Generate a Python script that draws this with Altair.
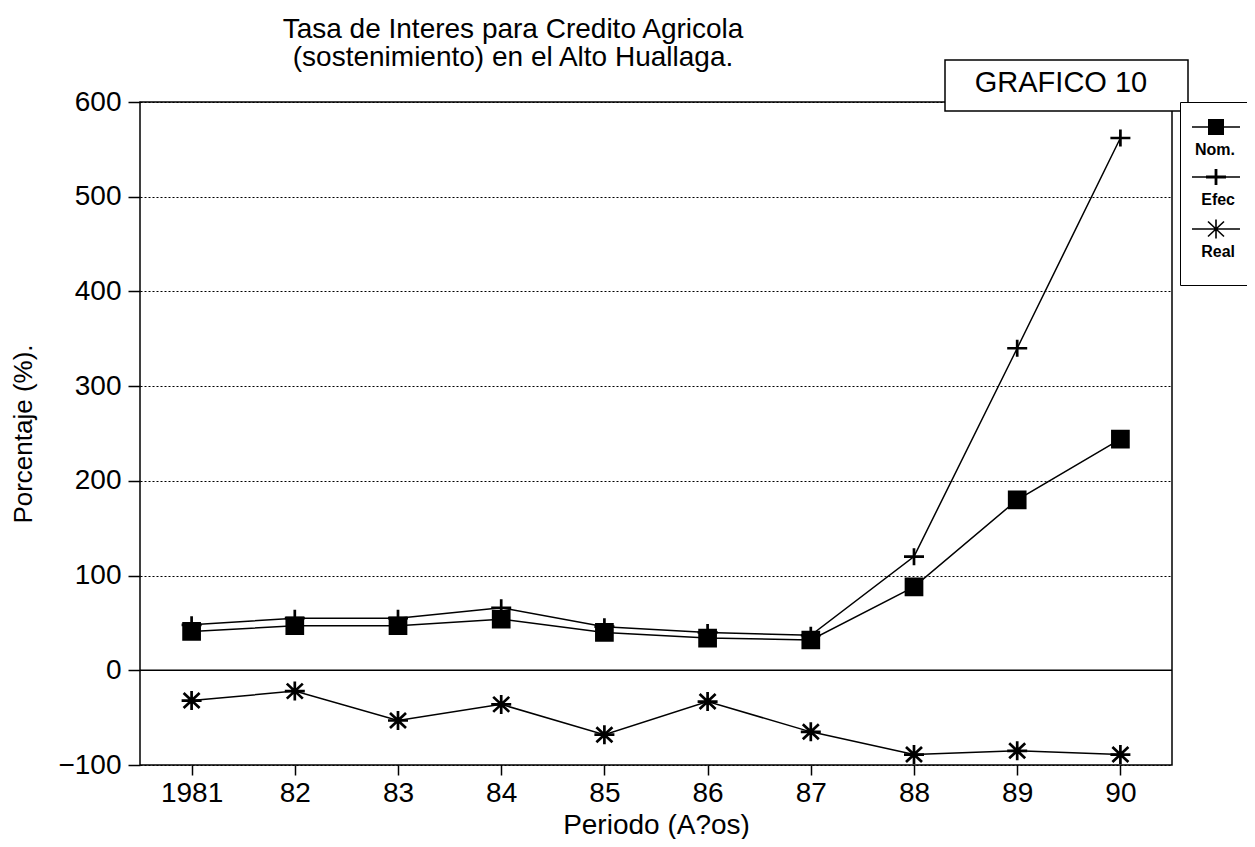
import altair as alt
import pandas as pd

# ---------------- data ----------------
years = ["1981", "82", "83", "84", "85", "86", "87", "88", "89", "90"]
nom = [41, 47, 47, 54, 40, 34, 32, 88, 180, 244]
efec = [48, 55, 55, 66, 46, 40, 37, 120, 340, 562]
real = [-32, -22, -53, -36, -68, -33, -65, -89, -85, -89]
series = ["Nom.", "Efec", "Real"]
y_ticks = [-100, 0, 100, 200, 300, 400, 500, 600]
title_lines = ["Tasa de Interes para Credito Agricola", "(sostenimiento) en el Alto Huallaga."]
badge = ["GRAFICO 10"]
x_title = "Periodo (A?os)"
y_title = "Porcentaje (%)."

rows = []
for name, vals in zip(series, [nom, efec, real]):
    for yr, v in zip(years, vals):
        rows.append({"periodo": yr, "valor": v, "serie": name})
df = pd.DataFrame(rows)

FONT = "Liberation Sans"
W, H = 1032, 663

# marker shapes for the plot (unit paths)
point_paths = [
    "M-0.8,-0.8H0.8V0.8H-0.8Z",
    "M-1,0H1M0,-0.85V0.85",
    "M-1,0H1M0,-0.95V0.95M-0.8,-0.75L0.8,0.75M-0.8,0.75L0.8,-0.75",
]

# legend glyphs built as filled outlines (marker with a line through it)
LEG_SIZE = 900
U = (LEG_SIZE ** 0.5) / 2.0  # pixels per path unit
CX, CY = -4.0, -15.0         # glyph shift inside the legend entry, px


def _f(v):
    return f"{v / U:.3f}"


def rect(x1, y1, x2, y2):
    x1, x2 = x1 + CX, x2 + CX
    y1, y2 = y1 + CY, y2 + CY
    return f"M{_f(x1)},{_f(y1)}H{_f(x2)}V{_f(y2)}H{_f(x1)}Z"


def seg(x1, y1, x2, y2, t):
    dx, dy = x2 - x1, y2 - y1
    n = (dx * dx + dy * dy) ** 0.5
    px, py = -dy / n * t, dx / n * t
    pts = [(x1 + px, y1 + py), (x2 + px, y2 + py), (x2 - px, y2 - py), (x1 - px, y1 - py)]
    area = sum(pts[i][0] * pts[(i + 1) % 4][1] - pts[(i + 1) % 4][0] * pts[i][1] for i in range(4))
    if area < 0:
        pts = pts[::-1]
    return "M" + "L".join(f"{_f(x + CX)},{_f(y + CY)}" for x, y in pts) + "Z"


line_thru = rect(-24, -0.8, 24, 0.8)
legend_paths = [
    line_thru + rect(-8, -8, 8, 8),
    line_thru + rect(-10, -1.4, 10, 1.4) + rect(-1.4, -8, 1.4, 8),
    line_thru + rect(-0.8, -9.5, 0.8, 9.5) + seg(-8, -7.5, 8, 7.5, 0.8) + seg(-8, 7.5, 8, -7.5, 0.8),
]

x_enc = alt.X(
    "periodo:O",
    sort=years,
    scale=alt.Scale(type="point", padding=0.5),
    axis=alt.Axis(
        title=x_title,
        labelAngle=0,
        labelFont=FONT,
        labelFontSize=28,
        labelColor="black",
        labelPadding=4,
        tickSize=10,
        tickColor="black",
        tickWidth=1.5,
        domain=False,
        grid=False,
        titleFont=FONT,
        titleFontSize=28,
        titleFontWeight="normal",
        titleColor="black",
        titlePadding=4,
    ),
)
y_enc = alt.Y(
    "valor:Q",
    scale=alt.Scale(domain=[-100, 600], nice=False, zero=False),
    axis=alt.Axis(
        values=y_ticks,
        title=y_title,
        labelFont=FONT,
        labelFontSize=28,
        labelColor="black",
        labelPadding=7,
        tickSize=12,
        tickColor="black",
        tickWidth=1.5,
        domain=False,
        grid=True,
        gridColor="black",
        gridDash=[2, 2],
        gridWidth=1,
        gridOpacity=1,
        titleFont=FONT,
        titleFontSize=26,
        titleFontWeight="normal",
        titleColor="black",
        titlePadding=21,
    ),
)

lines = alt.Chart(df).mark_line(color="black", strokeWidth=1.5).encode(
    x=x_enc, y=y_enc, detail="serie:N"
)

points = alt.Chart(df).mark_point(
    fill="black", stroke="black", strokeWidth=2.7, opacity=1, size=400
).encode(
    x=x_enc,
    y=y_enc,
    shape=alt.Shape("serie:N", scale=alt.Scale(domain=series, range=point_paths), legend=None),
)

legend_layer = alt.Chart(df).transform_filter("false").mark_point(
    fill="black", opacity=1, size=LEG_SIZE
).encode(
    x=x_enc,
    y=y_enc,
    shape=alt.Shape(
        "serie:N",
        scale=alt.Scale(domain=series, range=legend_paths),
        legend=alt.Legend(
            title=None,
            orient="none",
            legendX=1040,
            legendY=0,
            direction="vertical",
            symbolSize=LEG_SIZE,
            symbolFillColor="black",
            symbolStrokeColor="black",
            symbolStrokeWidth=0,
            labelFont=FONT,
            labelFontSize=16,
            labelFontWeight="bold",
            labelColor="black",
            labelAlign="right",
            labelBaseline="top",
            labelOffset=0,
            rowPadding=11,
            padding=25,
            strokeColor="black",
            fillColor="white",
        ),
    ),
)

zero = alt.Chart(pd.DataFrame({"v": [0]})).mark_rule(color="black", strokeWidth=1.5).encode(
    y=alt.datum(0)
)

badge_df = pd.DataFrame({"t": badge})
badge_box = alt.Chart(badge_df).mark_rect(fill="white", stroke="black", strokeWidth=1.5).encode(
    x=alt.value(805), x2=alt.value(1048), y=alt.value(-42), y2=alt.value(9)
)
badge_text = alt.Chart(badge_df).mark_text(
    font=FONT, fontSize=29, color="black", align="center", baseline="middle"
).encode(text="t:N", x=alt.value(921), y=alt.value(-19))

chart = (
    alt.layer(lines, zero, points, legend_layer, badge_box, badge_text)
    .resolve_scale(shape="independent")
    .properties(
        width=W,
        height=H,
        background="white",
        autosize=alt.AutoSizeParams(type="none"),
        padding={"left": 132, "top": 94, "right": 75, "bottom": 74},
        title=alt.TitleParams(
            text=title_lines,
            font=FONT,
            fontSize=28,
            fontWeight="normal",
            color="black",
            anchor="middle",
            dx=-143,
            dy=47,
            offset=34,
            lineHeight=28,
        ),
    )
    .configure_view(stroke="black", strokeWidth=1.5)
)

chart.save("out.html", embed_options={"renderer": "svg", "actions": False})
